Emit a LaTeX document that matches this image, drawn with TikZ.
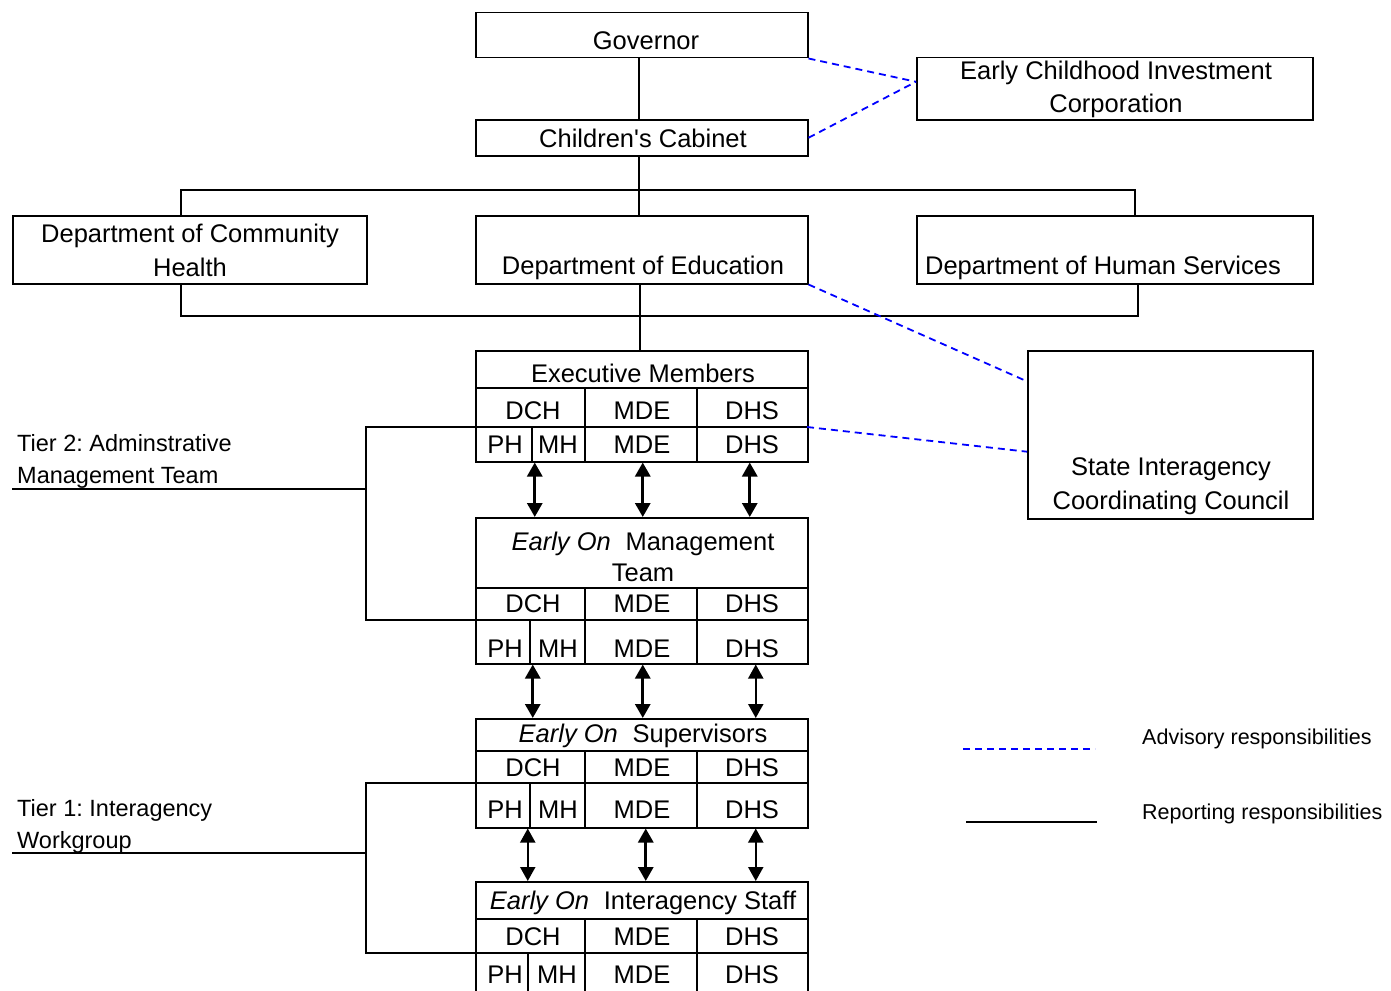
\documentclass[tikz,border=0pt]{standalone}
\usepackage{fontspec}
\setmainfont{Liberation Sans}[Ligatures=TeXOff]
\usetikzlibrary{arrows.meta,calc}
\begin{document}
\frenchspacing
\begin{tikzpicture}[x=1pt,y=-1pt,
  box/.style={draw, line width=1.5pt, inner sep=0pt, anchor=north west},
  txt/.style={inner sep=0pt, font=\fontsize{25.5}{31}\selectfont, align=center},
  small/.style={inner sep=0pt, font=\fontsize{21.5}{26}\selectfont, anchor=west},
  tier/.style={inner sep=0pt, font=\fontsize{23.5}{32}\selectfont, align=left, anchor=west},
  rep/.style={line width=1.5pt},
  adv/.style={blue, line width=1.8pt, dash pattern=on 7pt off 5pt},
  biarrow/.style={line width=3pt, arrows={Triangle[width=15pt,length=14pt]-Triangle[width=15pt,length=14pt]}},
  thinarrow/.style={line width=2pt, arrows={Triangle[width=15pt,length=14pt]-Triangle[width=15pt,length=14pt]}}
]
\useasboundingbox (0,0) rectangle (1391,990);

% ---- top boxes
\node[box, minimum width=332pt, minimum height=45pt] (gov) at (475,12) {};
\node[txt] (govt) at (646,41) {Governor};
\node[box, minimum width=332pt, minimum height=36pt] (cab) at (475,119) {};
\node[txt] (cabt) at (643,138) {Children's Cabinet};
\node[box, minimum width=396pt, minimum height=62pt] (ecic) at (916,57) {};
\node[txt, font=\fontsize{25.5}{33}\selectfont] (ecict) at (1116,89) {Early Childhood Investment\\Corporation};

% ---- departments
\node[box, minimum width=354pt, minimum height=68pt] (dch) at (12,215) {};
\node[txt, font=\fontsize{25.5}{34}\selectfont] (dcht) at (190,250) {Department of Community\\Health};
\node[box, minimum width=332pt, minimum height=68pt] (edu) at (475,215) {};
\node[txt] (edut) at (643,268) {Department of Education};
\node[box, minimum width=396pt, minimum height=68pt] (dhs) at (916,215) {};
\node[txt] (dhst) at (1103,268) {Department of Human Services};

% ---- SICC
\node[box, minimum width=285pt, minimum height=168pt] (sicc) at (1027,350) {};
\node[txt, font=\fontsize{25.5}{34}\selectfont] (sicct) at (1171,486) {State Interagency\\Coordinating Council};

% ---- reporting lines top
\draw[rep] ([xshift=-3pt]gov.south) -- ([xshift=-3pt]cab.north);
\draw[rep] ([xshift=-3pt]cab.south) -- ([xshift=-3pt]edu.north);
\coordinate (topL) at (181,190);
\coordinate (topR) at (1135,190);
\draw[rep] (topL |- dch.north) -- (topL) -- (topR) -- (topR |- dhs.north);
\coordinate (botL) at (181,316);
\coordinate (botR) at (1138,316);
\draw[rep] (botL |- dch.south) -- (botL) -- (botR) -- (botR |- dhs.south);
\coordinate (eduB) at (640,316);

% ---- Executive Members table
\node[box, minimum width=332pt, minimum height=111pt] (exec) at (475,350) {};
\draw[rep] (eduB |- edu.south) -- (eduB |- exec.north);
\draw[rep] (475,388) -- (807,388) (475,427) -- (807,427);
\draw[rep] (585,388) -- (585,461) (697,388) -- (697,461) (532,427) -- (532,461);
\node[txt] (ex0) at (643,373) {Executive Members};
\node[txt] (ex1) at (533,411) {DCH};
\node[txt] (ex2) at (642,411) {MDE};
\node[txt] (ex3) at (752,411) {DHS};
\node[txt] (ex4) at (505,445) {PH};
\node[txt] (ex5) at (558,445) {MH};
\node[txt] (ex6) at (642,445) {MDE};
\node[txt] (ex7) at (752,445) {DHS};

% ---- Management table
\node[box, minimum width=332pt, minimum height=146pt] (mgmt) at (475,517) {};
\draw[rep] (475,588) -- (807,588) (475,620) -- (807,620);
\draw[rep] (585,588) -- (585,663) (697,588) -- (697,663) (530,620) -- (530,663);
\node[txt] (mg0) at (643,557) {\textit{Early On}\hspace{0.3em} Management\\Team};
\node[txt] (mg1) at (533,604) {DCH};
\node[txt] (mg2) at (642,604) {MDE};
\node[txt] (mg3) at (752,604) {DHS};
\node[txt] (mg4) at (505,649) {PH};
\node[txt] (mg5) at (558,649) {MH};
\node[txt] (mg6) at (642,649) {MDE};
\node[txt] (mg7) at (752,649) {DHS};

% ---- Supervisors table
\node[box, minimum width=332pt, minimum height=109pt] (sup) at (475,718) {};
\draw[rep] (475,751) -- (807,751) (475,783) -- (807,783);
\draw[rep] (585,751) -- (585,827) (697,751) -- (697,827) (530,783) -- (530,827);
\node[txt] (su0) at (643,736) {\textit{Early On}\hspace{0.3em} Supervisors};
\node[txt] (su1) at (533,768) {DCH};
\node[txt] (su2) at (642,768) {MDE};
\node[txt] (su3) at (752,768) {DHS};
\node[txt] (su4) at (505,810) {PH};
\node[txt] (su5) at (558,810) {MH};
\node[txt] (su6) at (642,810) {MDE};
\node[txt] (su7) at (752,810) {DHS};

% ---- Interagency Staff table
\node[box, minimum width=332pt, minimum height=125pt] (staff) at (475,881) {};
\draw[rep] (475,919) -- (807,919) (475,953) -- (807,953);
\draw[rep] (585,919) -- (585,1006) (697,919) -- (697,1006) (528,953) -- (528,1006);
\node[txt] (st0) at (643,903) {\textit{Early On}\hspace{0.3em} Interagency Staff};
\node[txt] (st1) at (533,937) {DCH};
\node[txt] (st2) at (642,937) {MDE};
\node[txt] (st3) at (752,937) {DHS};
\node[txt] (st4) at (505,975) {PH};
\node[txt] (st5) at (557,975) {MH};
\node[txt] (st6) at (642,975) {MDE};
\node[txt] (st7) at (752,975) {DHS};

% ---- double arrows
\draw[biarrow] ([xshift=-107pt]exec.south) -- ([xshift=-107pt]mgmt.north);
\draw[biarrow] ([xshift=1pt]exec.south) -- ([xshift=1pt]mgmt.north);
\draw[biarrow] ([xshift=108pt]exec.south) -- ([xshift=108pt]mgmt.north);
\draw[biarrow] ([xshift=-109pt]mgmt.south) -- ([xshift=-109pt]sup.north);
\draw[biarrow] ([xshift=1pt]mgmt.south) -- ([xshift=1pt]sup.north);
\draw[thinarrow] ([xshift=114pt]mgmt.south) -- ([xshift=114pt]sup.north);
\draw[thinarrow] ([xshift=-114pt]sup.south) -- ([xshift=-114pt]staff.north);
\draw[biarrow] ([xshift=4pt]sup.south) -- ([xshift=4pt]staff.north);
\draw[thinarrow] ([xshift=114pt]sup.south) -- ([xshift=114pt]staff.north);

% ---- tier brackets
\coordinate (t2a) at (475,427);
\coordinate (t2b) at (475,620);
\coordinate (t2x) at (366,0);
\draw[rep] (t2a) -- (t2a -| t2x) -- (t2b -| t2x) -- (t2b);
\coordinate (t2l) at (12,489);
\draw[rep] (t2l) -- (t2l -| t2x);
\node[tier] (t2) at (17,461) {Tier 2: Adminstrative\\Management Team};

\coordinate (t1a) at (475,783);
\coordinate (t1b) at (475,953);
\draw[rep] (t1a) -- (t1a -| t2x) -- (t1b -| t2x) -- (t1b);
\coordinate (t1l) at (12,853);
\draw[rep] (t1l) -- (t1l -| t2x);
\node[tier] (t1) at (17,826) {Tier 1: Interagency\\Workgroup};

% ---- advisory lines
\draw[adv] (gov.south east) -- ([yshift=7pt]ecic.west);
\draw[adv] (cab.east) -- ([yshift=7pt]ecic.west);
\draw[adv] (edu.south east) -- ($(sicc.north west)!0.185!(sicc.south west)$);
\draw[adv] (807,427) -- ($(sicc.north west)!0.6!(sicc.south west)$);

% ---- legend
\coordinate (lg1a) at (963,749);
\coordinate (lg1b) at (1095,749);
\coordinate (lg2a) at (966,822);
\coordinate (lg2b) at (1097,822);
\draw[adv] (lg1a) -- (lg1b);
\draw[rep] (lg2a) -- (lg2b);
\node[small] (lgt1) at (1142,739) {Advisory responsibilities};
\node[small] (lgt2) at (1142,814) {Reporting responsibilities};
\end{tikzpicture}
\end{document}
